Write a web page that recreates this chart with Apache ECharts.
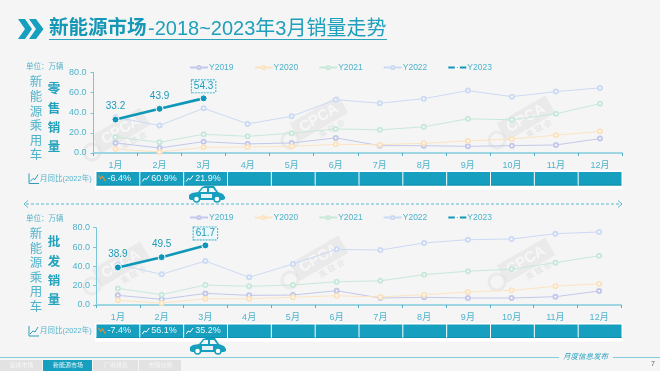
<!DOCTYPE html>
<html>
<head>
<meta charset="utf-8">
<style>
    html, body { margin: 0; padding: 0; background: #f5f5f5; }
    #main { width: 660px; height: 371px; }
</style>
</head>
<body>
<div id="main"></div>
<script src="https://cdn.jsdelivr.net/npm/echarts@6/dist/echarts.min.js"></script>
<script type="text/javascript">
    var months = ['1月','2月','3月','4月','5月','6月','7月','8月','9月','10月','11月','12月'];
    var yTicks = [0, 20, 40, 60, 80];

    // 零售销量
    var retail2019 = [10, 5, 11.3, 9, 10, 15, 7.3, 7.3, 6.6, 7.3, 8, 14.3];
    var retail2020 = [4, 1, 5.6, 6, 6.6, 8.6, 8.3, 9.6, 12, 14, 17.6, 21.5];
    var retail2021 = [16, 10.6, 18.6, 16.6, 19.6, 23.9, 23, 26, 34, 33, 39, 49];
    var retail2022 = [35.5, 27.3, 44.5, 28.9, 36.5, 53, 49.5, 54, 62, 56, 61, 64.7];
    var retail2023 = [33.2, 43.9, 54.3];
    var retailYoy = ['-6.4%', '60.9%', '21.9%'];

    // 批发销量
    var whole2019 = [10, 5.9, 12, 10, 10.3, 14.8, 7.2, 8, 7.2, 7.2, 8.6, 14.5];
    var whole2020 = [4.8, 2, 6.5, 6.5, 8, 9.6, 8.3, 10.7, 13.5, 15.2, 19.4, 22];
    var whole2021 = [17.2, 10.7, 20.7, 19.3, 20.7, 24, 25, 31.4, 35, 37, 43.8, 51];
    var whole2022 = [42, 31.7, 45.6, 28.6, 42.4, 57.6, 56.9, 64.2, 67.6, 68.3, 73.8, 75.6];
    var whole2023 = [38.9, 49.5, 61.7];
    var wholeYoy = ['-7.4%', '56.1%', '35.2%'];

    var legendNames = ['Y2019', 'Y2020', 'Y2021', 'Y2022', 'Y2023'];
    var tabs = ['总体市场', '新能源市场', '厂商排名', '市场分析'];

    var MAIN = '#169fbf', TEXT = '#4fb3cc';
    var lineColors = ['#c4c8ea', '#fbe3c0', '#c8e9da', '#ccdaf4'];
    var FONT = '"Liberation Sans", "Noto Sans CJK SC", sans-serif';

    function paleSeries(name, data, idx, colorIdx) {
        return {
            name: name, type: 'line', data: data,
            xAxisIndex: idx, yAxisIndex: idx,
            symbol: 'emptyCircle', symbolSize: 4,
            lineStyle: { color: lineColors[colorIdx], width: 1 },
            itemStyle: { color: lineColors[colorIdx], borderWidth: 1 },
            z: 2
        };
    }

    function mainSeries(data, idx) {
        var rows = data.map(function (v, i) {
            if (i < data.length - 1) return v;
            return {
                value: v,
                label: {
                    borderColor: '#3fb0c9', borderType: [2, 1], borderWidth: 1,
                    padding: [1, 2, 1, 2], backgroundColor: '#eef8fa', distance: 2
                }
            };
        });
        return {
            name: 'Y2023', type: 'line', data: rows,
            xAxisIndex: idx, yAxisIndex: idx,
            symbol: 'circle', symbolSize: 7,
            lineStyle: { color: '#0e97b8', width: 2.6 },
            itemStyle: { color: '#0e97b8', borderColor: '#ffffff', borderWidth: 1 },
            label: {
                show: true, position: 'top', distance: 4,
                color: '#1e9ab8', fontSize: 10, fontFamily: 'Liberation Sans',
                formatter: function (p) { return p.value.toFixed(1); }
            },
            z: 5
        };
    }

    function xAxis(gridIndex) {
        return {
            type: 'category', gridIndex: gridIndex, data: months,
            axisLine: { lineStyle: { color: '#9ed5e2', width: 2 } },
            axisTick: { show: true, alignWithLabel: false, length: 3, lineStyle: { color: '#4fb3cc' } },
            axisLabel: { color: TEXT, fontSize: 9, margin: 8, fontFamily: FONT, interval: 0 },
            splitLine: { show: false }
        };
    }

    function yAxis(gridIndex, margin) {
        return {
            type: 'value', gridIndex: gridIndex, min: yTicks[0], max: yTicks[yTicks.length - 1], interval: 20,
            axisLine: { show: true, lineStyle: { color: '#7cc5d6', width: 1 } },
            axisTick: { show: true, length: 3, lineStyle: { color: '#7cc5d6' } },
            axisLabel: {
                color: TEXT, fontSize: 9, margin: margin, fontFamily: 'Liberation Sans',
                formatter: function (v) { return v.toFixed(1); }
            },
            splitLine: { show: false }
        };
    }

    function legend(top) {
        return {
            data: legendNames, left: 189, top: top, padding: 0, itemWidth: 18, itemHeight: 4, itemGap: 20,
            textStyle: { color: TEXT, fontSize: 8.5, padding: [0, 0, 0, -4], fontFamily: 'Liberation Sans' }
        };
    }

    // ---------- decorations ----------
    var g = [];

    function txt(x, y, text, size, color, extra) {
        extra = extra || {};
        var style = {
            x: x, y: y, text: text, fill: color, textVerticalAlign: 'middle',
            font: (extra.fontStyle ? extra.fontStyle + ' ' : '') + (extra.fontWeight ? extra.fontWeight + ' ' : '') + size + 'px ' + (extra.fontFamily || FONT)
        };
        if (extra.textAlign) style.textAlign = extra.textAlign;
        g.push({ type: 'text', silent: true, style: style });
    }
    function rect(x, y, w, h, color) {
        g.push({ type: 'rect', silent: true, shape: { x: x, y: y, width: w, height: h }, style: { fill: color } });
    }
    function poly(points, color, width, dash) {
        g.push({ type: 'polyline', silent: true, shape: { points: points },
            style: { stroke: color, lineWidth: width || 1, fill: null, lineDash: dash || null } });
    }

    function watermark(cx, cy) {
        g.push({
            type: 'group', x: cx, y: cy, rotation: Math.PI / 6, silent: true, z: 0,
            children: [
                { type: 'rect', shape: { x: -28, y: -12, width: 56, height: 20 }, style: { fill: 'rgba(190,190,190,0.2)' } },
                { type: 'text', style: { x: 0, y: -2, text: 'CPCA', font: 'bold 15px "Liberation Sans"', fill: 'rgba(248,248,248,0.9)',
                    textAlign: 'center', textVerticalAlign: 'middle' } },
                { type: 'text', style: { x: 6, y: 14, text: '乘 联 会', font: '8px ' + FONT, fill: 'rgba(190,190,190,0.35)',
                    textAlign: 'center', textVerticalAlign: 'middle' } }
            ]
        });
        g.push({ type: 'circle', silent: true, shape: { cx: cx - 30, cy: cy + 20, r: 8 },
            style: { fill: 'none', stroke: 'rgba(190,190,190,0.18)', lineWidth: 3 } });
    }

    function car(x, y) {
        g.push({
            type: 'group', x: x, y: y, silent: true,
            children: [
                { type: 'polygon', shape: { points: [[0,13],[0,9],[3,7],[9,6],[13,1],[16,0],[25,0],[29,6],[34,8],[36,11],[36,13],[34,14],[2,14]] }, style: { fill: MAIN } },
                { type: 'polygon', shape: { points: [[11,6],[14,2],[18,2],[18,6]] }, style: { fill: '#f0f9fb' } },
                { type: 'polygon', shape: { points: [[20,2],[24,2],[27,6],[20,6]] }, style: { fill: '#f0f9fb' } },
                { type: 'rect', shape: { x: 12, y: 8, width: 11, height: 4 }, style: { fill: '#e4f3f7' } },
                { type: 'circle', shape: { cx: 7.5, cy: 13, r: 3 }, style: { fill: '#ffffff', stroke: MAIN, lineWidth: 1.5 } },
                { type: 'circle', shape: { cx: 28, cy: 13, r: 3 }, style: { fill: '#ffffff', stroke: MAIN, lineWidth: 1.5 } }
            ]
        });
    }

    function trendIcon(x, y, down) {
        if (down) poly([[x, y - 3], [x + 2, y], [x + 4, y - 2], [x + 7, y + 3]], '#e88b3a', 1.2);
        else poly([[x, y + 3], [x + 2, y], [x + 4, y + 1], [x + 7, y - 3]], '#ffffff', 1);
    }

    function panelDeco(opt) {
        txt(26, opt.unitY, '单位：万辆', 7.5, '#55b5cc');
        '新能源乘用车'.split('').forEach(function (c, i) {
            txt(36, opt.sideY + i * 14.6, c, 12.5, TEXT, { textAlign: 'center' });
        });
        opt.word.split('').forEach(function (c, i) {
            txt(54, opt.wordY + i * 19.3, c, 12.5, '#22a2bd', { textAlign: 'center', fontWeight: 'bold' });
        });
        // 同比行
        poly([[29, opt.rowY - 5], [29, opt.rowY + 5], [39, opt.rowY + 5]], '#2f9fb9', 1);
        poly([[30, opt.rowY + 3], [33, opt.rowY], [35, opt.rowY + 1], [38, opt.rowY - 4]], '#2f9fb9', 1);
        txt(40, opt.rowY, '月同比(2022年)', 7.5, '#55b5cc');
        var band = (622 - 96) / 12;
        rect(95, opt.rowY - 8, 528, 19, '#ffffff');
        months.forEach(function (m, i) {
            var x = 96 + i * band;
            rect(x + 0.5, opt.rowY - 6.5, band - 1, 13.5, MAIN);
            rect(x + 0.5, opt.rowY + 6, band - 1, 1, '#0f8fae');
        });
        opt.yoy.forEach(function (t, i) {
            var x = 96 + i * band;
            trendIcon(x + 2.5, opt.rowY, t.charAt(0) === '-');
            txt(x + 11.5, opt.rowY, t, 9, '#eaf7fa', { fontFamily: '"Liberation Sans"' });
        });
    }

    rect(0, 0, 660, 371, '#f5f5f5');

    // 标题
    g.push({ type: 'polygon', silent: true, shape: { points: [[18,19],[25,19],[32,29],[25,39],[18,39],[25,29]] }, style: { fill: MAIN } });
    g.push({ type: 'polygon', silent: true, shape: { points: [[29,19],[36,19],[43.5,29],[36,39],[29,39],[36,29]] }, style: { fill: MAIN } });
    txt(49, 29, '新能源市场', 19.5, '#1597b6', { fontWeight: 'bold' });
    txt(148, 29, '-2018~2023年3月销量走势', 20, '#1f9fbc');
    rect(49, 39, 338, 1, '#2ba3be');

    watermark(122, 132); watermark(320, 120); watermark(527, 120);
    watermark(122, 266); watermark(320, 260); watermark(527, 262);

    panelDeco({ unitY: 67, sideY: 83, word: '零售销量', wordY: 90, rowY: 178.5, yoy: retailYoy });
    panelDeco({ unitY: 219, sideY: 234.5, word: '批发销量', wordY: 243, rowY: 331, yoy: wholeYoy });

    // 分隔虚线
    poly([[26, 204], [621, 204]], '#5cb9cf', 1, [3, 2]);
    poly([[28, 200.5], [24, 204], [28, 207.5]], '#5cb9cf', 1);
    poly([[618, 200.5], [622, 204], [618, 207.5]], '#5cb9cf', 1);
    car(189, 186);
    car(190, 338);

    // 页脚
    rect(0, 357, 559, 1, '#86cbdb');
    rect(613, 357, 47, 1, '#86cbdb');
    txt(563, 357, '月度信息发布', 7.5, '#2ba3be', { fontStyle: 'italic' });
    txt(651, 364.5, '7', 7, '#666666', { fontFamily: '"Liberation Sans"' });
    [[0, 43], [43, 50], [93, 46], [139, 43]].forEach(function (t, i) {
        rect(t[0], 360, t[1] - 1, 11, i === 1 ? MAIN : '#e2e2e2');
        txt(t[0] + t[1] / 2, 365.5, tabs[i], 6, i === 1 ? '#eaf7fa' : '#f7f7f7', { textAlign: 'center' });
    });

    // ---------- chart ----------
    var myChart = echarts.init(document.getElementById('main'), null, { renderer: 'canvas' });
    var option = {
        animation: false,
        backgroundColor: '#f5f5f5',
        graphic: { elements: g },
        grid: [
            { left: 93.5, right: 38, top: 72.5, height: 80.5 },
            { left: 96, right: 39, top: 227.7, height: 77.3 }
        ],
        legend: [legend(63), legend(213)],
        xAxis: [xAxis(0), xAxis(1)],
        yAxis: [yAxis(0, 7), yAxis(1, 6)],
        series: [
            paleSeries('Y2019', retail2019, 0, 0),
            paleSeries('Y2020', retail2020, 0, 1),
            paleSeries('Y2021', retail2021, 0, 2),
            paleSeries('Y2022', retail2022, 0, 3),
            mainSeries(retail2023, 0),
            paleSeries('Y2019', whole2019, 1, 0),
            paleSeries('Y2020', whole2020, 1, 1),
            paleSeries('Y2021', whole2021, 1, 2),
            paleSeries('Y2022', whole2022, 1, 3),
            mainSeries(whole2023, 1)
        ]
    };
    myChart.setOption(option);
</script>
</body>
</html>
